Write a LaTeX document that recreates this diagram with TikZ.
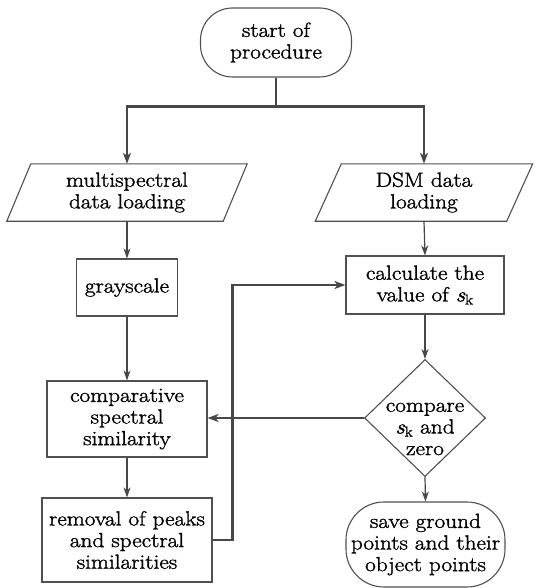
\documentclass[tikz,border=0pt]{standalone}
\usepackage{fontspec}
\setmainfont{Latin Modern Roman}[FakeStretch=1.14,FakeBold=1.5]
\usetikzlibrary{arrows.meta,shapes.geometric,calc}
\definecolor{ln}{HTML}{474747}
\definecolor{bd}{HTML}{505050}
\newcommand{\sk}{{\itshape s}\textsubscript{k}}
\begin{document}
\begin{tikzpicture}[x=1bp,y=-1bp,
  txt/.style={align=center,font=\fontsize{20.5}{21.7}\selectfont,inner sep=0pt},
  boxed/.style={txt,draw=bd,line width=1.1bp},
  thn/.style={draw=ln,line width=1.2bp,-{Stealth[length=10bp,width=7bp,inset=3bp]}},
  thk/.style={draw=ln,line width=2.4bp},
  thka/.style={thk,-{Stealth[length=11bp,width=8bp,inset=3bp]}}]
\useasboundingbox (0,0) rectangle (543,588);
% nodes
\node[boxed,rounded corners=32bp,minimum width=151bp,minimum height=69bp] (start) at (276,42.5) {start of\\procedure};
\node[txt,minimum width=216bp,minimum height=57bp] (ml) at (127,192.5) {multispectral\\data loading};
\draw[bd,line width=1.1bp] ([xshift=12bp]ml.north west) -- ([xshift=12bp]ml.north east) -- ([xshift=-12bp]ml.south east) -- ([xshift=-12bp]ml.south west) -- cycle;
\node[txt,minimum width=191bp,minimum height=57bp] (md) at (424,192.5) {DSM data\\loading};
\draw[bd,line width=1.1bp] ([xshift=13bp]md.north west) -- ([xshift=13bp]md.north east) -- ([xshift=-13bp]md.south east) -- ([xshift=-13bp]md.south west) -- cycle;
\node[boxed,minimum width=101bp,minimum height=57bp] (gray) at (127,287.5) {grayscale};
\node[boxed,minimum width=158bp,minimum height=58bp] (calc) at (425,285) {calculate the\\value of \sk};
\node[boxed,minimum width=160bp,minimum height=76bp] (comp) at (127,419) {comparative\\spectral\\similarity};
\node[draw=bd,line width=1.1bp,diamond,minimum width=121bp,minimum height=117bp,inner sep=0pt] (dia) at (425,418) {};
\node[txt] (diat) at ([yshift=-11bp]dia.center) {compare\\\sk{} and\\zero};
\node[boxed,minimum width=170bp,minimum height=84bp] (rem) at (127,540) {removal of peaks\\and spectral\\similarities};
\node[boxed,rounded corners=38bp,minimum width=159bp,minimum height=85bp] (save) at (425.5,544.5) {save ground\\points and their\\object points};
% connectors
\draw[thk] (start.south) -- ++(0,29) coordinate (jn);
\draw[thka] (jn) -| (ml.north);
\draw[thka] (jn) -| (md.north);
\draw[thn] (ml.south) -- (gray.north);
\draw[thn] (gray.south) -- (comp.north);
\draw[thn] (comp.south) -- (rem.north);
\draw[thn] (md.south) -- (calc.north);
\draw[thn] (calc.south) -- (dia.north);
\draw[thn] (dia.south) -- (save.north);
\draw[thka] (dia.west) -- (dia.west -| comp.east);
\draw[thka] (rem.east) -- ++(20,0) |- (calc.west);
\end{tikzpicture}
\end{document}
